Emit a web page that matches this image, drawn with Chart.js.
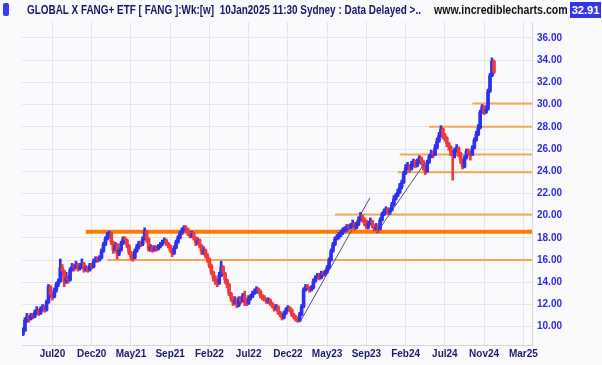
<!DOCTYPE html>
<html>
<head>
<meta charset="utf-8">
<script src="https://cdn.jsdelivr.net/npm/chart.js@4.4.1/dist/chart.umd.min.js"></script>
<style>
html, body { margin:0; padding:0; background:#fafafc; }
#wrap { position:relative; width:602px; height:365px; overflow:hidden; }
#chart { position:absolute; left:0; top:0; }
.hd { position:absolute; top:3px; font:bold 12px "Liberation Sans", Arial, sans-serif; white-space:nowrap; line-height:14px; transform-origin:0 50%; }
#icon { position:absolute; left:3px; top:3px; width:6px; height:13px; background:#3a3aee; border-radius:2px; }
#last { position:absolute; left:570px; top:2px; width:31px; height:16px; background:#3434e8; color:#fff;
        font:bold 11px "Liberation Sans", Arial, sans-serif; line-height:16px; text-align:center; }
</style>
</head>
<body>
<div id="wrap">
  <canvas id="chart" width="602" height="365"></canvas>
  <div id="icon"></div>
  <div class="hd" id="title" style="left:27px;color:#15156e">GLOBAL X FANG+ ETF [ FANG ]:Wk:[w]&nbsp;&nbsp;10Jan2025 11:30 Sydney : Data Delayed &gt;..</div>
  <div class="hd" id="site" style="left:434px;color:#111">www.incrediblecharts.com</div>
  <div id="last">32.91</div>
</div>
<script>
// FANG weekly bars (one value per week)
const firstOpen = 9.3;
const closes = [
  9.6,10.6,10.9,10.7,11.0,10.9,11.3,11.5,11.2,11.6,
  11.8,11.5,12.2,13.6,12.9,12.7,13.3,13.8,14.1,15.3,
  15.0,14.1,14.4,14.2,15.1,15.4,15.3,15.6,15.2,15.5,
  15.7,15.2,15.3,15.1,15.5,15.4,15.9,16.1,16.0,16.2,
  16.8,17.4,17.9,18.3,18.4,17.6,16.9,17.4,16.6,16.9,
  17.5,17.9,17.8,17.3,16.7,16.3,16.2,16.8,17.2,17.5,
  17.4,17.9,18.6,17.9,17.0,17.2,16.9,17.1,17.0,17.2,
  17.4,17.6,17.8,17.5,17.3,16.9,16.6,17.1,17.6,18.0,
  18.4,18.7,18.9,18.8,18.5,18.2,18.4,18.0,17.6,17.8,
  17.3,16.8,16.9,16.4,16.1,15.5,14.9,14.4,14.2,13.9,
  14.6,15.4,14.8,14.2,13.8,13.0,12.6,12.2,12.4,11.9,
  12.5,12.3,12.8,12.4,12.1,12.6,12.7,13.0,13.1,13.4,
  13.2,12.8,12.6,12.5,12.3,12.4,12.1,11.9,11.6,11.8,
  11.3,11.1,10.8,11.2,11.5,11.7,11.5,11.1,10.9,10.6,
  10.5,11.1,11.8,13.3,13.6,13.5,13.3,13.5,14.1,14.4,
  14.6,14.4,14.8,14.7,14.9,15.3,16.0,16.8,17.4,17.9,
  18.1,18.3,18.5,18.7,18.8,19.0,18.9,19.1,19.3,18.9,
  19.2,19.6,19.9,19.7,19.4,19.0,19.3,19.5,19.1,18.8,
  19.0,18.8,19.6,20.1,20.4,20.6,20.3,20.5,21.0,21.5,
  21.8,22.1,22.6,23.0,23.8,24.3,24.5,24.2,24.6,24.9,
  24.5,24.8,25.2,24.9,24.4,24.0,24.8,25.3,25.6,25.5,
  26.1,26.7,27.2,27.8,27.2,27.0,26.5,26.2,25.7,25.4,
  25.9,26.1,25.6,25.0,24.4,25.2,25.8,25.6,25.5,26.1,
  26.8,27.3,27.9,29.3,29.8,29.3,29.6,31.2,32.6,33.9,
  32.9
];
const highs = [
  9.9,10.8,11.2,11.0,11.2,11.2,11.5,11.8,11.6,11.8,
  12.0,11.9,12.4,13.8,13.7,13.1,13.5,14.0,14.3,16.1,
  15.6,15.1,14.9,14.6,15.3,15.7,15.6,15.9,15.7,15.7,
  16.1,15.8,15.5,15.4,15.7,15.7,16.1,16.3,16.3,16.4,
  17.0,17.6,18.1,18.5,18.6,18.5,17.7,17.6,17.5,17.1,
  17.7,18.1,18.1,17.9,17.4,16.8,16.5,17.0,17.4,17.7,
  17.7,18.1,18.9,18.7,18.0,17.4,17.3,17.3,17.3,17.4,
  17.6,17.8,18.0,17.9,17.6,17.4,17.0,17.3,17.8,18.2,
  18.6,18.9,19.1,19.1,18.9,18.6,18.6,18.5,18.1,18.0,
  17.9,17.4,17.2,17.0,16.6,16.2,15.6,15.0,14.6,14.3,
  14.9,15.9,15.5,14.9,14.3,13.9,13.1,12.7,12.7,12.5,
  12.7,12.7,13.0,13.2,12.5,12.8,12.9,13.2,13.4,13.6,
  13.5,13.3,12.9,12.8,12.6,12.6,12.5,12.2,12.0,12.0,
  11.9,11.4,11.2,11.4,11.7,11.9,11.8,11.6,11.2,11.0,
  10.8,11.3,12.0,13.5,13.8,13.8,13.6,13.7,14.3,14.6,
  14.8,14.8,15.0,15.0,15.1,15.5,16.2,17.0,17.6,18.1,
  18.3,18.5,18.7,18.9,19.0,19.2,19.2,19.3,19.6,19.4,
  19.4,19.9,20.3,20.1,19.8,19.6,19.5,19.8,19.6,19.2,
  19.3,19.1,19.8,20.3,20.6,20.8,20.7,20.7,21.2,21.8,
  22.0,22.4,22.9,23.2,24.0,24.6,24.8,24.6,24.9,25.1,
  25.0,25.1,25.4,25.3,25.0,24.5,25.0,25.5,25.9,25.8,
  26.4,27.0,27.5,28.1,27.9,27.4,27.1,26.6,26.3,25.9,
  26.1,26.4,26.2,25.7,25.1,25.4,26.0,26.0,25.8,26.3,
  27.0,27.6,28.2,29.5,30.0,29.9,29.9,31.4,32.8,34.2,
  34.0
];
const lows = [
  9.2,9.6,10.4,10.4,10.6,10.7,10.8,11.1,11.0,11.1,
  11.4,11.3,11.4,12.1,12.6,12.4,12.6,13.1,13.6,14.0,
  14.6,13.6,13.9,13.9,14.1,15.0,15.0,15.2,15.0,15.1,
  15.3,14.9,15.0,14.9,15.0,15.2,15.3,15.8,15.8,15.9,
  16.1,16.7,17.3,17.8,18.0,17.4,16.6,16.8,16.1,16.4,
  16.8,17.4,17.5,17.1,16.5,16.0,15.9,16.1,16.7,17.0,
  17.2,17.3,17.8,17.6,16.8,16.8,16.7,16.8,16.8,16.9,
  17.1,17.3,17.5,17.3,17.1,16.7,16.3,16.5,17.0,17.5,
  17.9,18.3,18.6,18.5,18.2,18.0,18.0,17.8,17.3,17.4,
  17.1,16.5,16.5,16.2,15.8,15.3,14.7,14.1,13.8,13.6,
  13.8,14.5,14.6,13.9,13.5,12.8,12.3,11.9,12.0,11.7,
  11.8,12.1,12.2,11.9,11.9,12.0,12.4,12.6,12.9,13.0,
  13.0,12.6,12.4,12.3,12.1,12.1,11.9,11.7,11.4,11.5,
  11.1,10.9,10.6,10.7,11.1,11.4,11.3,10.9,10.7,10.5,
  10.4,10.5,11.0,11.7,13.2,13.3,13.1,13.2,13.4,14.0,
  14.3,14.2,14.3,14.5,14.6,14.8,15.2,15.9,16.7,17.3,
  17.8,17.9,18.1,18.3,18.5,18.6,18.7,18.8,19.0,18.7,
  18.8,19.1,19.5,19.4,19.1,18.8,18.8,19.2,18.9,18.6,
  18.7,18.45,18.7,19.5,20.0,20.2,20.1,20.1,20.4,20.9,
  21.4,21.7,22.0,22.4,22.9,23.7,24.1,23.9,24.1,24.4,
  24.3,24.4,24.7,24.6,24.1,23.7,23.9,24.7,25.2,25.2,
  25.4,26.0,26.6,27.1,26.9,26.7,26.2,25.9,25.4,23.2,
  25.2,25.7,25.3,24.7,24.2,24.3,25.1,25.4,25.0,25.4,
  26.0,26.7,27.2,27.8,29.2,29.1,29.2,29.5,31.1,32.5,
  32.8
];

// date labels on the bottom axis, one every 20 weeks starting at week 15
const tickLabels = ['Jul20','Dec20','May21','Sep21','Feb22','Jul22','Dec22','May23','Sep23','Feb24','Jul24','Nov24','Mar25'];
const priceTicks = [10,12,14,16,18,20,22,24,26,28,30,32,34,36];

// support / resistance levels and the week they start from
const levelValues = [18.55, 16.0, 20.1, 23.9, 25.5, 28.0, 30.1];
const levelStart = [32, 43, 159, 191, 192, 207, 229];

// trend lines [week, price]
const trend1 = [[141.1, 10.39], [176.8, 21.6]];
const trend2 = [[180.1, 18.41], [204.6, 24.7]];

const XMIN = -0.51, XMAX = 259.4;
const BLUE = '#2f2ff0', RED = '#f03a3a';
const FONT = '"Liberation Sans", Arial, sans-serif';

// squeeze header text to the widths it has in the original
function fitWidth(id, w){
  const el = document.getElementById(id);
  el.style.transform = 'scaleX(' + (w / el.offsetWidth) + ')';
}
fitWidth('title', 394);
fitWidth('site', 134);

const opens = closes.map((c, i) => i === 0 ? firstOpen : closes[i - 1]);
const colors = closes.map((c, i) => c >= opens[i] ? BLUE : RED);

const datasets = [];
levelValues.forEach((v, k) => {
  datasets.push({
    type: 'line',
    data: [{ x: levelStart[k], y: v }, { x: XMAX, y: v }],
    borderColor: k === 0 ? '#ff7a05' : '#f6a755',
    borderWidth: k === 0 ? 4 : 2,
    pointRadius: 0,
    order: 5
  });
});
datasets.push({
  type: 'bar',
  data: closes.map((c, i) => ({ x: i, y: [lows[i], highs[i]] })),
  backgroundColor: colors,
  barThickness: 2,
  grouped: false,
  order: 2
});
datasets.push({
  type: 'bar',
  data: closes.map((c, i) => ({ x: i, y: [opens[i], c] })),
  backgroundColor: colors,
  barThickness: 3,
  grouped: false,
  order: 1
});
[trend1, trend2].forEach(t => {
  datasets.push({
    type: 'line',
    data: t.map(p => ({ x: p[0], y: p[1] })),
    borderColor: '#4b4b92',
    borderWidth: 1,
    pointRadius: 0,
    order: 0
  });
});

new Chart(document.getElementById('chart'), {
  type: 'bar',
  data: { datasets },
  options: {
    responsive: false,
    animation: false,
    layout: { padding: { left: 22, top: 22, right: 0, bottom: 0 } },
    plugins: { legend: { display: false }, tooltip: { enabled: false } },
    scales: {
      x: {
        type: 'linear',
        min: XMIN, max: XMAX,
        offset: false,
        afterBuildTicks: s => { s.ticks = tickLabels.map((l, k) => ({ value: 15 + 20 * k })); },
        afterFit: s => { s.height = 20; },
        ticks: {
          autoSkip: false, maxRotation: 0, padding: 3,
          color: '#1b1b6b', font: { family: FONT, size: 10, weight: 'bold' },
          callback: (v, idx) => tickLabels[idx]
        },
        grid: { color: '#e4e4ea', drawTicks: false, offset: false },
        border: { color: '#d6d6de' }
      },
      y: {
        position: 'right',
        min: 8.35, max: 37.44,
        afterBuildTicks: s => { s.ticks = priceTicks.map(v => ({ value: v })); },
        afterFit: s => { s.width = 70; },
        ticks: {
          padding: 5,
          color: '#2b2be6', font: { family: FONT, size: 10, weight: 'bold' },
          callback: v => v.toFixed(2)
        },
        grid: { color: '#e4e4ea', drawTicks: false },
        border: { color: '#d6d6de' }
      }
    }
  }
});
</script>
</body>
</html>
